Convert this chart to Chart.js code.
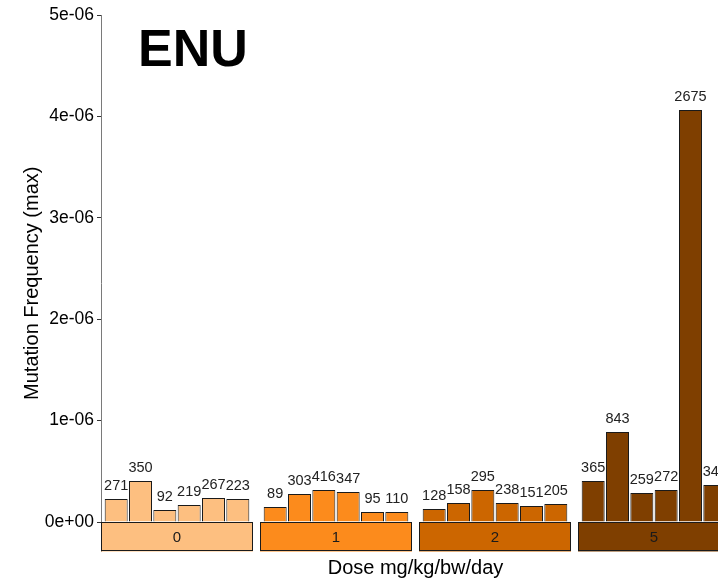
<!DOCTYPE html>
<html>
<head>
<meta charset="utf-8">
<script src="https://cdn.jsdelivr.net/npm/chart.js@4"></script>
<style>
  html, body { margin: 0; padding: 0; background: #fff; overflow: hidden; }
  #wrap { width: 760px; height: 583px; }
</style>
</head>
<body>
<div id="wrap"><canvas id="c" width="760" height="583"></canvas></div>
<script>
// Dose groups (mg/kg/bw/day) and their fill colours
const doses = ['0', '1', '2', '5'];
const doseColors = ['#FDBF80', '#FC8B1C', '#CC6600', '#7F3F00'];

// Maximum mutation frequency for each of the six animals per dose
const freqDose0 = [0.227e-6, 0.404e-6, 0.118e-6, 0.168e-6, 0.237e-6, 0.227e-6];
const freqDose1 = [0.148e-6, 0.276e-6, 0.316e-6, 0.296e-6, 0.099e-6, 0.099e-6];
const freqDose2 = [0.128e-6, 0.187e-6, 0.316e-6, 0.187e-6, 0.158e-6, 0.178e-6];
const freqDose5 = [0.404e-6, 0.888e-6, 0.286e-6, 0.316e-6, 4.063e-6, 0.365e-6];

// Mutant counts printed above each bar
const countDose0 = [271, 350, 92, 219, 267, 223];
const countDose1 = [89, 303, 416, 347, 95, 110];
const countDose2 = [128, 158, 295, 238, 151, 205];
const countDose5 = [365, 843, 259, 272, 2675, 346];

// Y axis ticks
const yTickValues = [0, 1e-6, 2e-6, 3e-6, 4e-6, 5e-6];
const yTickLabels = ['0e+00', '1e-06', '2e-06', '3e-06', '4e-06', '5e-06'];

const freqByDose = [freqDose0, freqDose1, freqDose2, freqDose5];
const countByDose = [countDose0, countDose1, countDose2, countDose5];

const FONT = '"Liberation Sans", Arial, sans-serif';
const PANEL_HALF = 0.478;   // half width of a dose panel, in x units

// one dataset per animal slot, one point per dose
const datasets = [];
for (let a = 0; a < 6; a++) {
  datasets.push({
    label: 'animal ' + (a + 1),
    data: doses.map((d, i) => ({ x: i, y: freqByDose[i][a] })),
    counts: doses.map((d, i) => countByDose[i][a]),
    backgroundColor: doseColors,
    borderColor: '#1a1a1a',
    borderWidth: 1,
    categoryPercentage: 0.918,
    barPercentage: 0.945
  });
}

const decorations = {
  id: 'decorations',
  beforeDatasetsDraw(chart) {
    const ctx = chart.ctx;
    const xs = chart.scales.x, ys = chart.scales.y;
    const top = ys.getPixelForValue(0);
    const bottom = chart.chartArea.bottom;
    ctx.save();
    doses.forEach((d, i) => {
      const l = xs.getPixelForValue(i - PANEL_HALF);
      const r = xs.getPixelForValue(i + PANEL_HALF);
      ctx.fillStyle = doseColors[i];
      ctx.fillRect(l, top, r - l, bottom - top);
      ctx.strokeStyle = '#1a1a1a';
      ctx.lineWidth = 1;
      ctx.strokeRect(Math.round(l) + 0.5, Math.round(top) + 0.5, Math.round(r - l) - 1, Math.round(bottom - top) - 1);
      ctx.fillStyle = '#1a1a1a';
      ctx.font = '15px ' + FONT;
      ctx.textAlign = 'center';
      ctx.textBaseline = 'middle';
      ctx.fillText(d, (l + r) / 2, (top + bottom) / 2 + 1);
    });
    ctx.restore();
  },
  afterDraw(chart) {
    const ctx = chart.ctx;
    const area = chart.chartArea;
    ctx.save();
    // counts above bars
    ctx.fillStyle = '#222';
    ctx.font = '14.5px ' + FONT;
    ctx.textAlign = 'center';
    ctx.textBaseline = 'alphabetic';
    chart.data.datasets.forEach((ds, di) => {
      const meta = chart.getDatasetMeta(di);
      meta.data.forEach((bar, j) => {
        ctx.fillText(String(ds.counts[j]), bar.x, bar.y - 9);
      });
    });
    // panel title
    ctx.fillStyle = '#000';
    ctx.font = 'bold 52px ' + FONT;
    ctx.textAlign = 'left';
    ctx.fillText('ENU', area.left + 37, 66);
    // axis titles
    ctx.fillStyle = '#000';
    ctx.font = '20px ' + FONT;
    ctx.textAlign = 'center';
    ctx.textBaseline = 'middle';
    const xs = chart.scales.x;
    const panelCenter = (xs.getPixelForValue(-PANEL_HALF) + xs.getPixelForValue(3 + PANEL_HALF)) / 2;
    ctx.fillText('Dose mg/kg/bw/day', panelCenter, 568);
    ctx.translate(32, (area.top + area.bottom) / 2);
    ctx.rotate(-Math.PI / 2);
    ctx.fillText('Mutation Frequency (max)', 0, 0);
    ctx.restore();
  }
};

new Chart(document.getElementById('c'), {
  type: 'bar',
  data: { datasets },
  plugins: [decorations],
  options: {
    responsive: false,
    animation: false,
    devicePixelRatio: 1,
    layout: { padding: { top: 15, bottom: 31.5, left: 0, right: 26.5 } },
    plugins: { legend: { display: false }, tooltip: { enabled: false } },
    scales: {
      x: {
        type: 'linear',
        min: -PANEL_HALF,
        max: 3.5,
        offset: false,
        grid: { offset: false },
        display: false,
        afterBuildTicks(scale) { scale.ticks = doses.map((d, i) => ({ value: i })); }
      },
      y: {
        type: 'linear',
        min: -0.29e-6,
        max: 5e-6,
        afterBuildTicks(scale) { scale.ticks = yTickValues.map(v => ({ value: v })); },
        afterFit(scale) { scale.width = 101; },
        border: { display: true, color: '#7a7a7a', width: 1 },
        grid: { drawOnChartArea: false, drawTicks: true, tickLength: 4, color: '#333', tickColor: '#333' },
        ticks: {
          padding: 3,
          color: '#000',
          font: { family: FONT, size: 17.5 },
          callback: (v, i) => yTickLabels[i]
        }
      }
    }
  }
});
</script>
</body>
</html>
